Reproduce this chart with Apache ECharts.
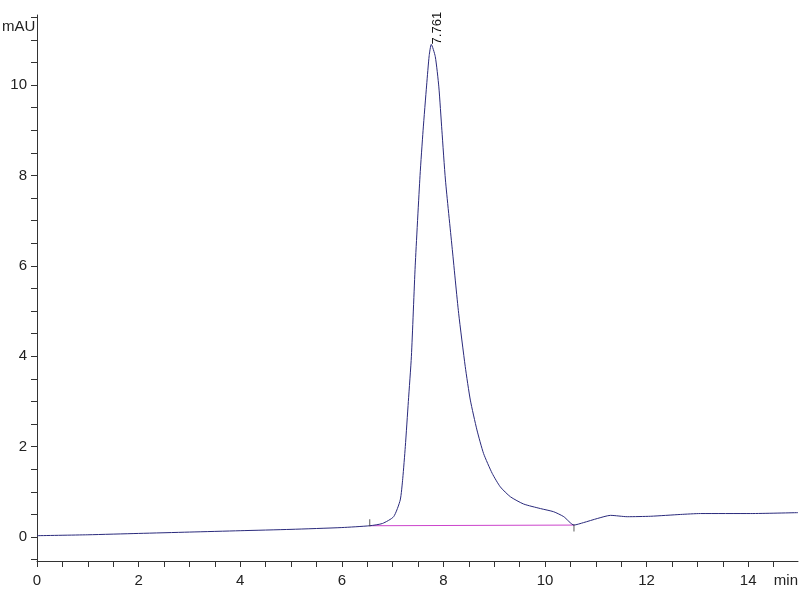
<!DOCTYPE html>
<html>
<head>
<meta charset="utf-8">
<script src="https://cdn.jsdelivr.net/npm/echarts@6/dist/echarts.min.js"></script>
<style>
  html, body { margin: 0; padding: 0; background: #fff; }
  #main { width: 800px; height: 600px; }
</style>
</head>
<body>
<div id="main"></div>
<script type="text/javascript">
// retention time (min) and signal (mAU)
var times = [0, 1, 2, 3, 4, 5, 6, 6.55, 6.8, 7.02, 7.15, 7.20, 7.25, 7.31, 7.37, 7.445, 7.54,
  7.60, 7.67, 7.72, 7.761, 7.84, 7.91, 7.97, 8.04, 8.17, 8.30, 8.43, 8.53, 8.66, 8.79, 8.96,
  9.12, 9.32, 9.58, 9.91, 10.17, 10.37, 10.57, 10.76, 11.03, 11.29, 11.62, 12.08, 12.67,
  13.06, 14.05, 14.98];
var signal = [0.03, 0.05, 0.08, 0.11, 0.14, 0.17, 0.21, 0.25, 0.30, 0.45, 0.82, 1.3, 2.0, 3.0,
  4.0, 6.0, 8.0, 9.0, 10.0, 10.65, 10.9, 10.63, 9.96, 9.0, 7.9, 6.42, 4.95, 3.77, 3.03,
  2.37, 1.85, 1.41, 1.11, 0.89, 0.73, 0.63, 0.56, 0.45, 0.265, 0.32, 0.41, 0.48, 0.45,
  0.46, 0.50, 0.52, 0.52, 0.54];

var peakTime = 7.761;
var peakHeight = 10.9;
var baseStart = [6.55, 0.25];
var baseEnd = [10.57, 0.265];

var xLabels = [0, 2, 4, 6, 8, 10, 12, 14];
var yLabels = [0, 2, 4, 6, 8, 10];
var xTicks = [], yTicks = [];
for (var i = 0; i <= 29; i++) xTicks.push(i * 0.5);
for (var j = -1; j <= 23; j++) yTicks.push(j * 0.5);

var font = '"Liberation Sans Narrow", "Liberation Sans", Arial, sans-serif';
var traceData = times.map(function (t, k) { return [t, signal[k]]; });

var chart = echarts.init(document.getElementById('main'));
chart.setOption({
  animation: false,
  backgroundColor: '#ffffff',
  grid: { left: 37, right: 2, top: 15, bottom: 39, containLabel: false, outerBoundsMode: 'none' },
  xAxis: {
    type: 'value', min: 0, max: 14.98,
    splitLine: { show: false },
    axisLine: { onZero: false, lineStyle: { color: '#333', width: 1 } },
    axisTick: { customValues: xTicks, length: 6, lineStyle: { color: '#333' } },
    axisLabel: { customValues: xLabels, margin: 12, color: '#222', fontSize: 15, fontFamily: font }
  },
  yAxis: {
    type: 'value', min: -0.53, max: 11.55,
    splitLine: { show: false },
    axisLine: { show: true, onZero: false, lineStyle: { color: '#333', width: 1 } },
    axisTick: { show: true, customValues: yTicks, length: 6, lineStyle: { color: '#333' } },
    axisLabel: { customValues: yLabels, margin: 10, color: '#222', fontSize: 15, fontFamily: font }
  },
  graphic: [
    { type: 'text', right: 2, top: 573, style: { text: 'min', fill: '#222', font: '15px ' + font } },
    { type: 'text', left: 2, top: 19, style: { text: 'mAU', fill: '#222', font: '15px ' + font } }
  ],
  series: [
    {
      type: 'line', data: [baseStart, baseEnd], symbol: 'none',
      lineStyle: { color: '#cc44cc', width: 1 }, z: 1
    },
    {
      type: 'line', data: traceData, symbol: 'none', smooth: 0.2,
      lineStyle: { color: '#2a2a7c', width: 1 }, z: 2,
      markPoint: {
        symbol: 'circle', symbolSize: 0,
        data: [{ coord: [peakTime, peakHeight] }],
        label: {
          show: true, formatter: String(peakTime), rotate: 90,
          position: 'inside', align: 'left', verticalAlign: 'middle', offset: [0, 6],
          color: '#111', fontSize: 13, fontFamily: '"Liberation Sans", Arial, sans-serif'
        }
      }
    },
    {
      type: 'scatter', data: [baseStart], symbol: 'rect', symbolSize: [1, 7],
      symbolOffset: [0, -3], itemStyle: { color: '#333' }, z: 3
    },
    {
      type: 'scatter', data: [baseEnd], symbol: 'rect', symbolSize: [1, 7],
      symbolOffset: [0, 3], itemStyle: { color: '#333' }, z: 3
    }
  ]
});
</script>
</body>
</html>
